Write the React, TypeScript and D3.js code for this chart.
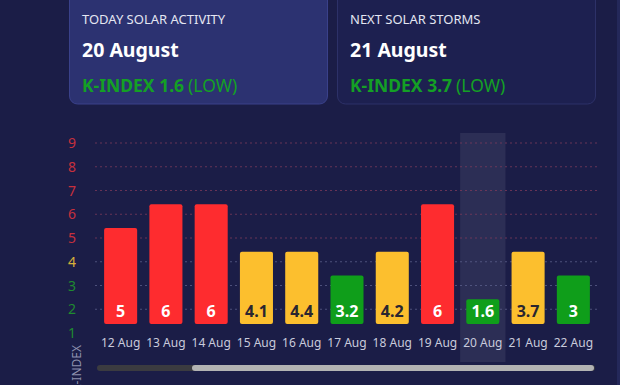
import React from 'react';
import * as d3 from 'd3';

// chart data
const days = ['12 Aug', '13 Aug', '14 Aug', '15 Aug', '16 Aug', '17 Aug', '18 Aug', '19 Aug', '20 Aug', '21 Aug', '22 Aug'];
const kIndex = ['5', '6', '6', '4.1', '4.4', '3.2', '4.2', '6', '1.6', '3.7', '3'];
// bars are drawn at the level band of each value, not its exact size
const levels = [5, 6, 6, 4, 4, 3, 4, 6, 2, 4, 3];
const yTicks = [1, 2, 3, 4, 5, 6, 7, 8, 9];
const today = '20 Aug';

const cards = [
  { title: 'TODAY SOLAR ACTIVITY', date: '20 August', k: 'K-INDEX 1.6', tag: '(LOW)' },
  { title: 'NEXT SOLAR STORMS', date: '21 August', k: 'K-INDEX 3.7', tag: '(LOW)' },
];

const W = 620;
const H = 385;
const FONT = '"Noto Sans", "Open Sans", sans-serif';

const RED = '#fe2c2f';
const YELLOW = '#fcbf2e';
const GREEN = '#0f9e1a';

const levelColor = (v: number) => (v >= 5 ? RED : v >= 3.5 ? YELLOW : GREEN);
const tickColor = (t: number) => (t >= 5 ? '#c7303d' : t === 4 ? '#d6b03a' : '#1f8a30');

const App = () => {
  const x = d3.scaleBand().domain(days).range([98, 596]).paddingInner(0.27).paddingOuter(0.135);
  const band = d3.scaleBand().domain(days).range([98, 596]);
  const y = d3.scaleLinear().domain([1, 9]).range([333, 143]);
  const base = y(1.38);

  return (
    <div style={{ position: 'fixed', left: 0, top: 0, width: W, height: H }}>
      <svg width={W} height={H} style={{ display: 'block', fontFamily: FONT }}>
        <rect width={W} height={H} fill="#1b1d47" />
        <rect x={617} width={3} height={H} fill="#24285a" />

        {cards.map((c, i) => {
          const cx = i === 0 ? 69 : 337;
          return (
            <g key={c.title} transform={`translate(${cx},0)`}>
              <rect
                x={0.5}
                y={-8}
                width={258}
                height={112}
                rx={8}
                fill={i === 0 ? '#2c3271' : '#1d2050'}
                stroke={i === 0 ? '#3a418a' : '#2d3168'}
              />
              <text x={13} y={24} fill="#e4e6f2" fontSize={13}>{c.title}</text>
              <text x={13} y={57} fill="#ffffff" fontSize={19.5} fontWeight={700}>{c.date}</text>
              <text x={13} y={92} fontSize={17.5} fill="#14a025">
                <tspan fontWeight={700}>{c.k}</tspan>
                <tspan dx={4}>{c.tag}</tspan>
              </text>
            </g>
          );
        })}

        <rect
          x={band(today)}
          y={133}
          width={band.bandwidth()}
          height={229}
          fill="#ffffff"
          fillOpacity={0.08}
        />

        {yTicks.slice(1).map((t) => (
          <line
            key={t}
            x1={95}
            x2={598}
            y1={y(t)}
            y2={y(t)}
            stroke={t > 4 ? '#7a3a5a' : '#5a5e8a'}
            strokeOpacity={0.8}
            strokeDasharray="2,3"
          />
        ))}

        {yTicks.map((t) => (
          <text key={t} x={72} y={y(t)} dy="0.36em" textAnchor="middle" fontSize={14} fill={tickColor(t)}>
            {t}
          </text>
        ))}

        <text
          transform={`translate(77,345) rotate(-90)`}
          textAnchor="end"
          dy="0.35em"
          fontSize={12}
          fill="#8d90ad"
        >
          K-INDEX
        </text>

        {days.map((d, i) => {
          const top = y(levels[i] + 0.42);
          const col = levelColor(levels[i]);
          return (
            <g key={d}>
              <rect x={x(d)} y={top} width={x.bandwidth()} height={base - top} rx={2} fill={col} />
              <text
                x={(x(d) as number) + x.bandwidth() / 2}
                y={base - 13}
                dy="0.36em"
                textAnchor="middle"
                fontSize={16}
                fontWeight={700}
                fill={col === YELLOW ? '#2a2630' : '#ffffff'}
              >
                {kIndex[i]}
              </text>
              <text
                x={(band(d) as number) + band.bandwidth() / 2}
                y={343}
                dy="0.36em"
                textAnchor="middle"
                fontSize={12}
                fill="#c9cbdc"
              >
                {d}
              </text>
            </g>
          );
        })}

        <rect x={97} y={365} width={498} height={6} rx={3} fill="#3b3b40" />
        <rect x={192} y={365} width={402} height={6} rx={3} fill="#b3b3b3" />
      </svg>
    </div>
  );
};

export default App;
